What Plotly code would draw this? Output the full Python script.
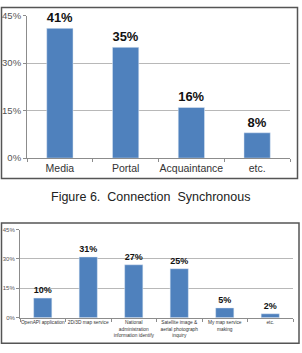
import plotly.graph_objects as go

# Figure 6 top chart
cats_top = ["Media", "Portal", "Acquaintance", "etc."]
vals_top = [41, 35, 16, 8]
# bottom chart
cats_bot = ["OpenAPI application", "2D/3D map service",
            "National<br>administration<br>information identify",
            "Satellite image &<br>aerial photograph<br>inquiry",
            "My map service<br>making", "etc."]
vals_bot = [10, 31, 27, 25, 5, 2]
yticks = [0, 15, 30, 45]
ytick_text = ["0%", "15%", "30%", "45%"]
caption = "Figure\u00a06.\u00a0\u00a0Connection\u00a0\u00a0Synchronous"

W, H = 302, 353
BAR = "#4F81BD"
FONT = "Liberation Sans, Arial, sans-serif"

def px(x):
    return x / W

def py(y):
    return 1 - y / H

fig = go.Figure()
fig.add_trace(go.Bar(x=cats_top, y=vals_top, marker_color=BAR, width=0.4,
                     texttemplate="<b>%{y}%</b>", textposition="outside", cliponaxis=False,
                     textfont=dict(family=FONT, size=13, color="#111"),
                     xaxis="x", yaxis="y"))
fig.add_trace(go.Bar(x=cats_bot, y=vals_bot, marker_color=BAR, width=0.4,
                     texttemplate="<b>%{y}%</b>", textposition="outside", cliponaxis=False,
                     textfont=dict(family=FONT, size=9, color="#111"),
                     xaxis="x2", yaxis="y2"))

axis_common = dict(showline=True, linecolor="#8c8c8c", linewidth=1,
                   tickcolor="#8c8c8c", ticks="outside", ticklen=3)

fig.update_layout(
    width=W, height=H, margin=dict(l=0, r=0, t=0, b=0),
    paper_bgcolor="white", plot_bgcolor="white", showlegend=False,
    font=dict(family=FONT, color="#404040"),
    xaxis=dict(domain=[px(27), px(290)], anchor="y", tickson="boundaries",
               tickangle=0, tickfont=dict(size=10.5, color="#333"), **axis_common),
    yaxis=dict(domain=[py(157), py(10)], anchor="x", range=[0, 45],
               tickvals=yticks, ticktext=ytick_text, showgrid=True,
               gridcolor="#b8b8b8", gridwidth=1, zeroline=False,
               tickfont=dict(size=9.5, color="#555"), **axis_common),
    xaxis2=dict(domain=[px(20), px(293)], anchor="y2", tickson="boundaries",
                tickfont=dict(size=4.8, color="#333"), tickangle=0, **axis_common),
    yaxis2=dict(domain=[py(321.7), py(230.7)], anchor="x2", range=[0, 45],
                tickvals=yticks, ticktext=ytick_text, showgrid=True,
                gridcolor="#b8b8b8", gridwidth=1, zeroline=False,
                tickfont=dict(size=6, color="#555"), **axis_common),
    bargap=0.6,
)

fig.add_shape(type="rect", xref="paper", yref="paper",
              x0=px(1.5), x1=px(297.5), y0=py(178), y1=py(1.5),
              line=dict(color="#555", width=1.5))
fig.add_shape(type="rect", xref="paper", yref="paper",
              x0=px(1.5), x1=px(299), y0=py(348), y1=py(224),
              line=dict(color="#555", width=1.5))
fig.add_annotation(text=caption, xref="paper", yref="paper", x=px(150), y=py(197),
                   showarrow=False, xanchor="center", yanchor="middle",
                   font=dict(family=FONT, size=12.5, color="#222"))

fig.write_html("out.html")
